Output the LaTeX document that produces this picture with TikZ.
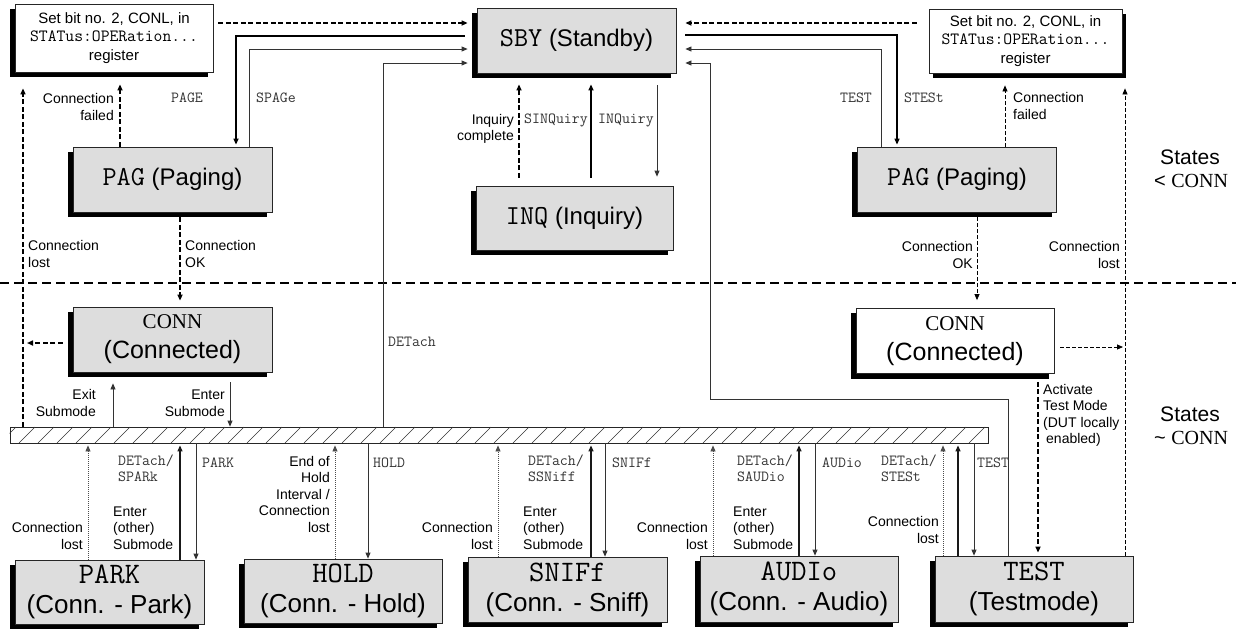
\documentclass[tikz,border=0pt]{standalone}
\usepackage{fontspec}
\setmainfont{Liberation Sans}
\newfontfamily\cmono[Scale=1.143]{Latin Modern Mono}
\newfontfamily\ctimes{Liberation Serif}
\usetikzlibrary{arrows.meta,calc}
\definecolor{boxgrey}{RGB}{221,221,221}
\pgfdeclarelayer{bg}
\pgfsetlayers{bg,main}
\begin{document}
\begin{tikzpicture}[x=1pt,y=-1pt,
  >={Triangle[length=6pt,width=5pt]},
  statebox/.style={draw=black!85, line width=0.8pt, fill=boxgrey, minimum width=199pt, minimum height=65pt, inner sep=0pt, align=center},
  topfont/.style={font=\fontsize{24}{28}\selectfont},
  botfont/.style={font=\fontsize{26}{30}\selectfont},
  connfont/.style={font=\fontsize{25}{30}\selectfont},
  regfont/.style={font=\fontsize{15}{18.5}\selectfont},
  lab/.style={font=\fontsize{14}{16.5}\selectfont, inner sep=0pt},
  labr/.style={lab, anchor=east, align=right},
  labl/.style={lab, anchor=west, align=left},
  mlab/.style={font=\cmono\fontsize{13.5}{16}\selectfont, inner sep=0pt, text=black!80, align=left},
  thinl/.style={line width=0.8pt, draw=black!80},
  upl/.style={line width=1.2pt, draw=black!90},
  cthick/.style={line width=1.6pt},
  cmed/.style={line width=1.2pt},
  dthick/.style={line width=1.6pt, dash pattern=on 5pt off 2.5pt},
  dthin/.style={line width=0.8pt, dash pattern=on 4pt off 2pt},
  dotl/.style={line width=0.8pt, dash pattern=on 1pt off 1pt, draw=black!70},
  sepl/.style={line width=2.6pt, dash pattern=on 9pt off 5pt},
  shadowfill/.style={fill=black}
]
\useasboundingbox (0,0) rectangle (1236,630);

% ---------- boxes ----------
\node[statebox, fill=white, regfont, minimum width=198pt, minimum height=68pt] (setL) at (114,38)
  {Set bit no. 2, CONL, in\\{\cmono STATus:OPERation...}\\register};
\node[statebox, fill=white, regfont, minimum width=193pt, minimum height=64pt] (setR) at (1025.5,41)
  {Set bit no. 2, CONL, in\\{\cmono STATus:OPERation...}\\register};
\node[statebox, topfont] (SBY) at (576.5,40.5) {{\cmono SBY} (Standby)};
\node[statebox, topfont] (PAGL) at (172.5,179.5) {{\cmono PAG} (Paging)};
\node[statebox, topfont] (PAGR) at (957,179.5) {{\cmono PAG} (Paging)};
\node[statebox, topfont, minimum width=197pt, minimum height=64pt] (INQ) at (574.5,218) {{\cmono INQ} (Inquiry)};
\node[statebox, connfont] (CONNL) at (172.5,339.5) {{\ctimes\fontsize{21}{30}\selectfont CONN}\\(Connected)};
\node[statebox, fill=white, connfont, minimum width=198pt] (CONNR) at (955,341) {{\ctimes\fontsize{21}{30}\selectfont CONN}\\(Connected)};

\node[statebox, botfont, minimum width=189pt, minimum height=64pt] (PARK) at (109.5,592) {{\cmono PARK}\\(Conn. - Park)};
\node[statebox, botfont, minimum width=198pt, minimum height=64pt] (HOLD) at (343,591) {{\cmono HOLD}\\(Conn. - Hold)};
\node[statebox, botfont, minimum width=199pt, minimum height=65pt] (SNIF) at (567.5,589.5) {{\cmono SNIFf}\\(Conn. - Sniff)};
\node[statebox, botfont, minimum width=198pt, minimum height=66pt] (AUDI) at (799,589) {{\cmono AUDIo}\\(Conn. - Audio)};
\node[statebox, botfont, minimum width=198pt, minimum height=66pt] (TEST) at (1034,589) {{\cmono TEST}\\(Testmode)};

% ---------- shadows ----------
\begin{pgfonlayer}{bg}
  \foreach \n in {setL,SBY,PAGL,PAGR,INQ,CONNL,CONNR,PARK,HOLD,SNIF,AUDI,TEST}
    \fill[shadowfill] ($(\n.south west)+(-5,5)$) rectangle ($(\n.north east)+(-5,5)$);
  \fill[shadowfill] ($(setR.south west)+(4,5)$) rectangle ($(setR.north east)+(4,5)$);
\end{pgfonlayer}

% ---------- hatched bar ----------
\node[draw=black!85, line width=0.8pt, minimum width=978pt, minimum height=16pt, inner sep=0pt] (bar) at (499,435) {};
\begin{scope}
  \clip (bar.south west) rectangle (bar.north east);
  \foreach \x in {0,19,...,1000} \draw[line width=0.6pt, black!80] (\x,443) -- (\x+16,427);
\end{scope}

% ---------- separator ----------
\draw[sepl] (0,283) -- (1236,283);

% ---------- top connectors ----------
\draw[dthick,->,shorten <=5pt,shorten >=9pt] (setL.east |- 0,23) -- (SBY.west |- 0,23);
\draw[cthick,->,shorten <=12pt,shorten >=2pt] (SBY.west |- 0,36) -| (PAGL.north -| 236,0);
\draw[thinl,->,shorten >=9pt] (PAGL.north -| 249,0) |- (SBY.west |- 0,49);
\draw[thinl,->,shorten >=9pt] (bar.north -| 383,0) |- (SBY.west |- 0,63);

\draw[dthick,->,shorten <=12pt,shorten >=9pt] (setR.west |- 0,23) -- (SBY.east |- 0,23);
\draw[cmed,->,shorten <=9pt,shorten >=2pt] (SBY.east |- 0,35) -| (PAGR.north -| 897,0);
\draw[thinl,->,shorten >=9pt] (PAGR.north -| 881,0) |- (SBY.east |- 0,49);
\draw[thinl,->,shorten >=9pt] (TEST.north -| 1008,0) |- (710,399) |- (SBY.east |- 0,63);

% left paging
\draw[dthick,->,shorten >=12pt] (PAGL.north -| 120,0) -- (setL.south -| 120,0);
\draw[dthick,->,shorten >=16pt] (bar.north -| 23,0) -- (setL.south -| 23,0);
\draw[dthick,->,shorten <=5pt,shorten >=6pt] (PAGL.south -| 180,0) -- (CONNL.north -| 180,0);

% inquiry
\draw[dthick,->,shorten <=8pt,shorten >=11pt] (INQ.north -| 519,0) -- (SBY.south -| 519,0);
\draw[cthick,->,shorten <=8pt,shorten >=11pt] (INQ.north -| 591,0) -- (SBY.south -| 591,0);
\draw[thinl,->,shorten <=12pt,shorten >=9pt] (SBY.south -| 657,0) -- (INQ.north -| 657,0);

% right paging
\draw[dthin,->,shorten >=12pt] (PAGR.north -| 1005,0) -- (setR.south -| 1005,0);
\draw[dthin,->,shorten >=15pt] (TEST.north -| 1125,0) -- (setR.south -| 1125,0);
\draw[dthin,->,shorten <=5pt,shorten >=8pt] (PAGR.south -| 977,0) -- (CONNR.north -| 977,0);

% connected
\coordinate (lostL) at (27,343);
\coordinate (lostR) at (1123,347);
\draw[dthick,->,shorten <=10pt] (CONNL.west |- 0,343) -- (lostL);
\draw[dthin,->,shorten <=6pt] (CONNR.east |- 0,347) -- (lostR);
\draw[thinl,->,shorten >=11pt] (bar.north -| 113,0) -- (CONNL.south -| 113,0);
\draw[thinl,->,shorten <=10pt] (CONNL.south -| 230,0) -- (bar.north -| 230,0);
\draw[dthick,->,shorten <=8pt,shorten >=3pt] (CONNR.south -| 1038,0) -- (TEST.north -| 1038,0);

% bottom submodes
\draw[dotl,->,shorten >=2pt] (PARK.north -| 88,0) -- (bar.south -| 88,0);
\draw[upl,->,shorten >=2pt] (PARK.north -| 180,0) -- (bar.south -| 180,0);
\draw[thinl,->] (bar.south -| 196,0) -- (PARK.north -| 196,0);

\draw[dotl,->,shorten >=2pt] (HOLD.north -| 335,0) -- (bar.south -| 335,0);
\draw[thinl,->] (bar.south -| 368,0) -- (HOLD.north -| 368,0);

\draw[dotl,->,shorten >=2pt] (SNIF.north -| 498,0) -- (bar.south -| 498,0);
\draw[upl,->,shorten >=2pt] (SNIF.north -| 591,0) -- (bar.south -| 591,0);
\draw[thinl,->] (bar.south -| 605,0) -- (SNIF.north -| 605,0);

\draw[dotl,->,shorten >=2pt] (AUDI.north -| 713,0) -- (bar.south -| 713,0);
\draw[upl,->,shorten >=2pt] (AUDI.north -| 799,0) -- (bar.south -| 799,0);
\draw[thinl,->] (bar.south -| 815,0) -- (AUDI.north -| 815,0);

\draw[dotl,->,shorten >=2pt] (TEST.north -| 943,0) -- (bar.south -| 943,0);
\draw[upl,->,shorten >=2pt] (TEST.north -| 958,0) -- (bar.south -| 958,0);
\draw[thinl,->] (bar.south -| 974,0) -- (TEST.north -| 974,0);

% ---------- labels ----------
\node[mlab] (tPAGE) at (187,98) {PAGE};
\node[mlab] (tSPAGe) at (276,98) {SPAGe};
\node[mlab, anchor=west] (tDET) at (388,342) {DETach};
\node[mlab] (tTEST1) at (856,98) {TEST};
\node[mlab] (tSTESt) at (924,98) {STESt};
\node[mlab] (tSINQ) at (556,120) {SINQuiry};
\node[mlab] (tINQ) at (626,120) {INQuiry};
\node[labr] (lInq) at (514,129) {Inquiry\\complete};

\node[labr] (lFailL) at (114,107) {Connection\\failed};
\node[labl] (lLostL) at (28,254) {Connection\\lost};
\node[labl] (lOKL) at (185,254) {Connection\\OK};
\node[labl] (lFailR) at (1013,106) {Connection\\failed};
\node[labr] (lLostR) at (1120,255) {Connection\\lost};
\node[labr] (lOKR) at (973,255) {Connection\\OK};

\node[labr] (lExit) at (96,403) {Exit\\Submode};
\node[labr] (lEnter) at (225,403) {Enter\\Submode};
\node[lab, anchor=north west, align=left] (lAct) at (1043,384) {Activate\\Test Mode\\(DUT locally\\\hspace{3pt}enabled)};

\node[font=\fontsize{21}{24}\selectfont, inner sep=0pt] (st1) at (1190,157) {States};
\node[font=\fontsize{20}{24}\selectfont, inner sep=0pt] (st1b) at (1191,181) {< {\ctimes CONN}};
\node[font=\fontsize{21}{24}\selectfont, inner sep=0pt] (st2) at (1190,414) {States};
\node[font=\fontsize{20}{24}\selectfont, inner sep=0pt] (st2b) at (1191,438) {\textasciitilde\ {\ctimes CONN}};

% park
\node[labr] (pk1) at (83,536) {Connection\\lost};
\node[mlab, anchor=north west] (pk2) at (118,455) {DETach/\\SPARk};
\node[labl] (pk3) at (113,528) {Enter\\(other)\\Submode};
\node[mlab, anchor=west] (pk4) at (202,463) {PARK};
% hold
\node[labr] (hd1) at (330,494) {End of\\Hold\\Interval /\\Connection\\lost};
\node[mlab, anchor=west] (hd2) at (373,463) {HOLD};
% sniff
\node[labr] (sn1) at (493,536) {Connection\\lost};
\node[mlab, anchor=north west] (sn2) at (528,455) {DETach/\\SSNiff};
\node[labl] (sn3) at (523,528) {Enter\\(other)\\Submode};
\node[mlab, anchor=west] (sn4) at (612,463) {SNIFf};
% audio
\node[labr] (au1) at (708,536) {Connection\\lost};
\node[mlab, anchor=north west] (au2) at (737,455) {DETach/\\SAUDio};
\node[labl] (au3) at (733,528) {Enter\\(other)\\Submode};
\node[mlab, anchor=west] (au4) at (822,463) {AUDio};
% test
\node[mlab, anchor=north west] (ts1) at (881,455) {DETach/\\STESt};
\node[labr] (ts2) at (939,530) {Connection\\lost};
\node[mlab, anchor=west] (ts3) at (977,463) {TEST};
\end{tikzpicture}
\end{document}
